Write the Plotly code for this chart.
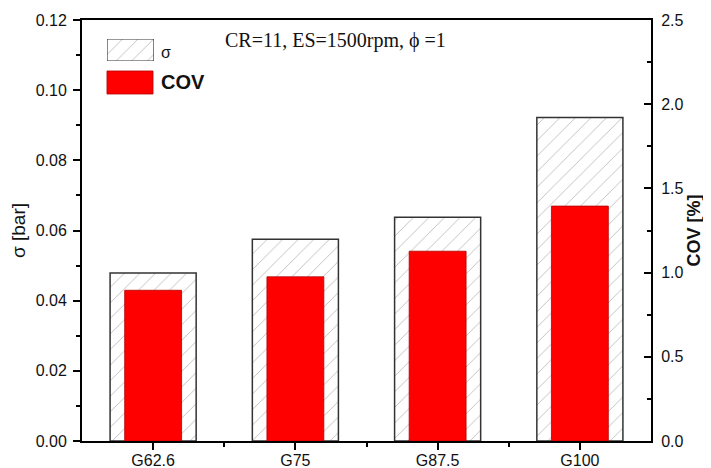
import plotly.graph_objects as go

categories = ["G62.6", "G75", "G87.5", "G100"]
sigma_bar = [0.0479, 0.0575, 0.0638, 0.0922]
cov_pct = [0.895, 0.975, 1.127, 1.395]
left_ticks = [0.00, 0.02, 0.04, 0.06, 0.08, 0.10, 0.12]
right_ticks = [0.0, 0.5, 1.0, 1.5, 2.0, 2.5]

xpos = list(range(len(categories)))
FONT = "Liberation Sans, Arial, sans-serif"
HATCH = dict(shape="/", fgcolor="#4a4a4a", bgcolor="white", size=11, solidity=0.06)

fig = go.Figure()

fig.add_trace(go.Bar(
    x=xpos, y=sigma_bar, width=0.605, name="σ", yaxis="y", xaxis="x",
    marker=dict(color="white", line=dict(color="#333333", width=1.5), pattern=HATCH),
    showlegend=False,
))
fig.add_trace(go.Bar(
    x=xpos, y=cov_pct, width=0.40, name="COV", yaxis="y2", xaxis="x",
    marker=dict(color="#ff0000", line=dict(color="#b00000", width=0.8)),
    showlegend=False,
))

# legend swatch (hatched) on a small helper axis
fig.add_trace(go.Bar(
    x=[0], y=[1], width=1, xaxis="x3", yaxis="y3", cliponaxis=False,
    marker=dict(color="white", line=dict(color="#333333", width=1.2), pattern=HATCH),
    showlegend=False, hoverinfo="skip",
))

axis_common = dict(showline=True, linecolor="black", linewidth=2,
                   showgrid=False, zeroline=False, automargin=False)
TICKFONT = dict(family=FONT, size=16, color="#111111")

# page body has an 8px margin, so the figure is offset by 8px
fig.update_layout(
    width=703, height=460,
    margin=dict(l=74, r=60, t=12, b=27),
    paper_bgcolor="white", plot_bgcolor="white",
    barmode="overlay",
    xaxis=dict(range=[-0.5, 3.5], tickvals=xpos, ticktext=categories,
               tickfont=TICKFONT, ticklabelstandoff=-3,
               ticks="outside", ticklen=7, tickwidth=2, tickcolor="black",
               mirror=True,
               minor=dict(tickvals=[0.5, 1.5, 2.5], ticks="outside",
                          ticklen=4, tickwidth=2, tickcolor="black"),
               **axis_common),
    yaxis=dict(range=[0, 0.12], tickvals=left_ticks,
               ticktext=[f"{v:.2f}" for v in left_ticks],
               tickfont=TICKFONT, ticklabelstandoff=3,
               ticks="outside", ticklen=7, tickwidth=2, tickcolor="black",
               minor=dict(dtick=0.01, tick0=0, ticks="outside",
                          ticklen=4, tickwidth=2, tickcolor="black"),
               title=dict(text="σ [bar]", font=dict(family=FONT, size=19, color="#111111"),
                          standoff=6),
               **axis_common),
    yaxis2=dict(range=[0, 2.5], overlaying="y", side="right",
                tickvals=right_ticks, ticktext=[f"{v:.1f}" for v in right_ticks],
                tickfont=TICKFONT, ticklabelstandoff=5,
                ticks="inside", ticklen=7, tickwidth=2, tickcolor="black",
                minor=dict(dtick=0.25, tick0=0, ticks="inside",
                           ticklen=4, tickwidth=2, tickcolor="black"),
                title=dict(text="<b>COV [%]</b>", font=dict(family=FONT, size=18, color="#111111"),
                           standoff=4),
                **axis_common),
    xaxis3=dict(domain=[0.0439, 0.1265], range=[-0.5, 0.5], visible=False,
                fixedrange=True),
    yaxis3=dict(domain=[0.9026, 0.9549], range=[0, 1], visible=False,
                fixedrange=True, anchor="x3"),
    shapes=[dict(type="rect", xref="paper", yref="paper",
                 x0=0.0439, x1=0.1248, y0=0.8242, y1=0.8789,
                 fillcolor="#ff0000", line=dict(color="#b00000", width=0.8))],
    annotations=[
        dict(text="CR=11, ES=1500rpm, ϕ =1", xref="paper", yref="paper",
             x=0.445, y=0.952, xanchor="center", yanchor="middle", showarrow=False,
             font=dict(family="Liberation Serif, Times New Roman, serif", size=20, color="#111111")),
        dict(text="σ", xref="paper", yref="paper", x=0.136, y=0.922,
             xanchor="left", yanchor="middle", showarrow=False,
             font=dict(family=FONT, size=16, color="#111111")),
        dict(text="<b>COV</b>", xref="paper", yref="paper", x=0.136, y=0.852,
             xanchor="left", yanchor="middle", showarrow=False,
             font=dict(family=FONT, size=20, color="#111111")),
    ],
)

fig.write_html("out.html")
